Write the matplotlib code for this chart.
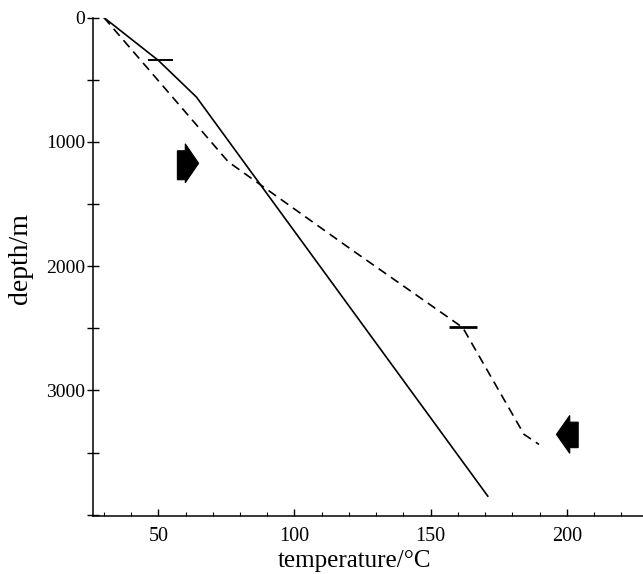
import matplotlib
matplotlib.use("Agg")
import matplotlib.pyplot as plt
from matplotlib.patches import Polygon
from matplotlib.ticker import MultipleLocator

# data (temperature in degC, depth in m)
solid_temp = [30, 50, 64, 171]
solid_depth = [0, 345, 640, 3850]

dashed_temp = [30, 75.7, 120.6, 161.8, 184.3, 189.8]
dashed_depth = [0, 1161, 1862, 2494, 3353, 3434]

# horizontal error bars: depth, temp from, temp to
bar_depth = [344, 2488]
bar_lo = [46.2, 156.6]
bar_hi = [55.4, 167.0]

# block arrows: (x_back, x_base, x_tip, head_top, body_top, body_bot, head_bot)
arrow_right = (57.0, 59.9, 64.8, 1016, 1072, 1305, 1329)
arrow_left = (204.2, 201.1, 196.2, 3201, 3255, 3460, 3506)

plt.rcParams["font.family"] = ["Liberation Serif", "DejaVu Serif"]

fig = plt.figure(figsize=(6.43, 5.74), dpi=100)
ax = fig.add_axes([0.1446, 0.101, 0.8554, 0.8685])

ax.plot(solid_temp, solid_depth, color="black", lw=1.2)
ax.plot(dashed_temp, dashed_depth, color="black", lw=1.2, dashes=(5.5, 3.5))
for d, lo, hi, w in zip(bar_depth, bar_lo, bar_hi, [1.4, 2.0]):
    ax.plot([lo, hi], [d, d], color="black", lw=w, solid_capstyle="butt")


def block_arrow(a):
    xb, xh, xt, ht, bt, bb, hb = a
    tip_y = (ht + hb) / 2
    pts = [(xb, bt), (xh, bt), (xh, ht), (xt, tip_y), (xh, hb), (xh, bb), (xb, bb)]
    ax.add_patch(Polygon(pts, closed=True, facecolor="black", edgecolor="black",
                         lw=0.8, zorder=3))


block_arrow(arrow_right)
block_arrow(arrow_left)

ax.set_xlim(26, 228)
ax.set_ylim(4010, 0)

for s in ["top", "right"]:
    ax.spines[s].set_visible(False)
ax.spines["left"].set_linewidth(1.1)
ax.spines["bottom"].set_linewidth(1.1)

ax.xaxis.set_minor_locator(MultipleLocator(10))
ax.yaxis.set_minor_locator(MultipleLocator(500))
ax.set_xticks([50, 100, 150, 200])
ax.set_yticks([0, 1000, 2000, 3000])

ax.tick_params(axis="x", which="major", direction="in", length=5, width=1,
               pad=8, labelsize=14.5)
ax.tick_params(axis="x", which="minor", direction="in", length=3, width=0.8)
ax.tick_params(axis="y", which="both", direction="inout", length=9, width=1,
               pad=1, labelsize=14)

fig.text(355 / 643, 1 - 561 / 574, "temperature/°C", fontsize=18,
         ha="center", va="center")
fig.text(20 / 643, 1 - 259 / 574, "depth/m", fontsize=20, rotation=90,
         ha="center", va="center")

fig.savefig("out.png", dpi=100, facecolor="white")
